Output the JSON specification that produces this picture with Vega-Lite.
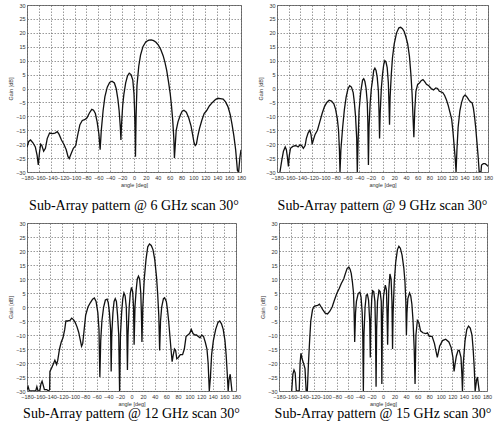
{
  "$schema": "https://vega.github.io/schema/vega-lite/v6.json",
  "description": "Sub-array radiation patterns at 6, 9, 12 and 15 GHz, scan 30 deg.",
  "background": "white",
  "padding": {"left": 8, "top": 2, "right": 0, "bottom": 0},
  "data": {
    "values": [
      {"f": 6, "a": -180, "g": -21}, {"f": 6, "a": -177, "g": -19}, {"f": 6, "a": -174, "g": -18.5}, {"f": 6, "a": -170, "g": -19.5},
      {"f": 6, "a": -166, "g": -21}, {"f": 6, "a": -163, "g": -24}, {"f": 6, "a": -161, "g": -27.5}, {"f": 6, "a": -159, "g": -23},
      {"f": 6, "a": -157, "g": -20}, {"f": 6, "a": -155, "g": -20.5}, {"f": 6, "a": -152, "g": -22.5}, {"f": 6, "a": -149, "g": -21.5},
      {"f": 6, "a": -146, "g": -18}, {"f": 6, "a": -142, "g": -16}, {"f": 6, "a": -137, "g": -16.2}, {"f": 6, "a": -133, "g": -16},
      {"f": 6, "a": -129, "g": -15.5}, {"f": 6, "a": -126, "g": -16.5}, {"f": 6, "a": -122, "g": -18.5}, {"f": 6, "a": -118, "g": -20},
      {"f": 6, "a": -114, "g": -22}, {"f": 6, "a": -111, "g": -24.5}, {"f": 6, "a": -109, "g": -25.2}, {"f": 6, "a": -106, "g": -23.5},
      {"f": 6, "a": -102, "g": -21.5}, {"f": 6, "a": -98, "g": -20.5}, {"f": 6, "a": -95, "g": -17}, {"f": 6, "a": -91, "g": -13},
      {"f": 6, "a": -87, "g": -11.5}, {"f": 6, "a": -83, "g": -11.2}, {"f": 6, "a": -79, "g": -10.5}, {"f": 6, "a": -75, "g": -8.8},
      {"f": 6, "a": -71, "g": -7.5}, {"f": 6, "a": -68, "g": -7.8}, {"f": 6, "a": -65, "g": -9}, {"f": 6, "a": -62, "g": -12},
      {"f": 6, "a": -59, "g": -16.5}, {"f": 6, "a": -57, "g": -22}, {"f": 6, "a": -55, "g": -15}, {"f": 6, "a": -52, "g": -8},
      {"f": 6, "a": -49, "g": -3}, {"f": 6, "a": -45, "g": 0.5}, {"f": 6, "a": -41, "g": 2.2}, {"f": 6, "a": -37, "g": 2.6},
      {"f": 6, "a": -33, "g": 2}, {"f": 6, "a": -30, "g": 0}, {"f": 6, "a": -27, "g": -4}, {"f": 6, "a": -25, "g": -8},
      {"f": 6, "a": -23, "g": -14}, {"f": 6, "a": -22, "g": -18.5}, {"f": 6, "a": -21, "g": -13}, {"f": 6, "a": -19, "g": -6},
      {"f": 6, "a": -17, "g": -2}, {"f": 6, "a": -14, "g": 2}, {"f": 6, "a": -11, "g": 4.5}, {"f": 6, "a": -8, "g": 5.5},
      {"f": 6, "a": -5, "g": 5}, {"f": 6, "a": -2, "g": 3}, {"f": 6, "a": 0, "g": -2}, {"f": 6, "a": 1, "g": -8},
      {"f": 6, "a": 2, "g": -17}, {"f": 6, "a": 2.5, "g": -24.5}, {"f": 6, "a": 3.5, "g": -10}, {"f": 6, "a": 5, "g": 1},
      {"f": 6, "a": 8, "g": 8}, {"f": 6, "a": 11, "g": 12}, {"f": 6, "a": 15, "g": 15}, {"f": 6, "a": 20, "g": 16.8},
      {"f": 6, "a": 25, "g": 17.4}, {"f": 6, "a": 29, "g": 17.5}, {"f": 6, "a": 33, "g": 17.2}, {"f": 6, "a": 37, "g": 16.6},
      {"f": 6, "a": 41, "g": 15.6}, {"f": 6, "a": 45, "g": 14}, {"f": 6, "a": 49, "g": 11.8}, {"f": 6, "a": 52, "g": 9.5},
      {"f": 6, "a": 55, "g": 6.5}, {"f": 6, "a": 58, "g": 2.5}, {"f": 6, "a": 61, "g": -2}, {"f": 6, "a": 63, "g": -6},
      {"f": 6, "a": 65, "g": -11}, {"f": 6, "a": 67, "g": -18}, {"f": 6, "a": 68, "g": -25}, {"f": 6, "a": 69.5, "g": -20},
      {"f": 6, "a": 71, "g": -15}, {"f": 6, "a": 74, "g": -12}, {"f": 6, "a": 78, "g": -9.5}, {"f": 6, "a": 81, "g": -8.2},
      {"f": 6, "a": 84, "g": -7.8}, {"f": 6, "a": 88, "g": -8.5}, {"f": 6, "a": 92, "g": -10.5}, {"f": 6, "a": 96, "g": -13.5},
      {"f": 6, "a": 99, "g": -17}, {"f": 6, "a": 101, "g": -19.5}, {"f": 6, "a": 103, "g": -20.5}, {"f": 6, "a": 105, "g": -20},
      {"f": 6, "a": 107, "g": -17.5}, {"f": 6, "a": 110, "g": -14.5}, {"f": 6, "a": 114, "g": -11.5}, {"f": 6, "a": 118, "g": -9},
      {"f": 6, "a": 122, "g": -8}, {"f": 6, "a": 127, "g": -6.2}, {"f": 6, "a": 132, "g": -5}, {"f": 6, "a": 137, "g": -4},
      {"f": 6, "a": 141, "g": -3.5}, {"f": 6, "a": 145, "g": -3.6}, {"f": 6, "a": 150, "g": -3.8}, {"f": 6, "a": 154, "g": -4.8},
      {"f": 6, "a": 158, "g": -6.5}, {"f": 6, "a": 162, "g": -9.5}, {"f": 6, "a": 165, "g": -13}, {"f": 6, "a": 168, "g": -17},
      {"f": 6, "a": 171, "g": -22}, {"f": 6, "a": 173, "g": -27}, {"f": 6, "a": 174, "g": -29.5}, {"f": 6, "a": 176, "g": -30},
      {"f": 6, "a": 178, "g": -25}, {"f": 6, "a": 180, "g": -22},

      {"f": 9, "a": -175, "g": -30}, {"f": 9, "a": -172, "g": -26}, {"f": 9, "a": -169, "g": -22.5}, {"f": 9, "a": -166, "g": -21},
      {"f": 9, "a": -164, "g": -22}, {"f": 9, "a": -162, "g": -25}, {"f": 9, "a": -160.5, "g": -28}, {"f": 9, "a": -159, "g": -24},
      {"f": 9, "a": -157, "g": -21.5}, {"f": 9, "a": -153, "g": -20.8}, {"f": 9, "a": -148, "g": -20.5}, {"f": 9, "a": -144, "g": -21},
      {"f": 9, "a": -141, "g": -20.3}, {"f": 9, "a": -138, "g": -20.5}, {"f": 9, "a": -135, "g": -21.5}, {"f": 9, "a": -132, "g": -20.5},
      {"f": 9, "a": -130, "g": -18}, {"f": 9, "a": -127, "g": -16}, {"f": 9, "a": -124, "g": -15}, {"f": 9, "a": -122, "g": -16.5},
      {"f": 9, "a": -120, "g": -20}, {"f": 9, "a": -118, "g": -18.5}, {"f": 9, "a": -115, "g": -16.5}, {"f": 9, "a": -111, "g": -15},
      {"f": 9, "a": -107, "g": -12}, {"f": 9, "a": -103, "g": -9}, {"f": 9, "a": -99, "g": -6.5}, {"f": 9, "a": -95, "g": -5},
      {"f": 9, "a": -91, "g": -4.2}, {"f": 9, "a": -87, "g": -4.5}, {"f": 9, "a": -83, "g": -5.5}, {"f": 9, "a": -80, "g": -7.5},
      {"f": 9, "a": -77, "g": -11}, {"f": 9, "a": -75, "g": -15}, {"f": 9, "a": -73.5, "g": -22}, {"f": 9, "a": -72.5, "g": -30},
      {"f": 9, "a": -71, "g": -22}, {"f": 9, "a": -68, "g": -14}, {"f": 9, "a": -65, "g": -7.5}, {"f": 9, "a": -62, "g": -3},
      {"f": 9, "a": -59, "g": -0.2}, {"f": 9, "a": -56, "g": 1}, {"f": 9, "a": -53, "g": 0.5}, {"f": 9, "a": -50, "g": -1.5},
      {"f": 9, "a": -48, "g": -5}, {"f": 9, "a": -46, "g": -10}, {"f": 9, "a": -44, "g": -18}, {"f": 9, "a": -43, "g": -30},
      {"f": 9, "a": -41.5, "g": -18}, {"f": 9, "a": -40, "g": -8}, {"f": 9, "a": -37, "g": -1}, {"f": 9, "a": -34, "g": 3},
      {"f": 9, "a": -32, "g": 3.5}, {"f": 9, "a": -30, "g": 2.5}, {"f": 9, "a": -28, "g": 0}, {"f": 9, "a": -26, "g": -5},
      {"f": 9, "a": -25, "g": -12}, {"f": 9, "a": -24, "g": -27.5}, {"f": 9, "a": -23, "g": -14}, {"f": 9, "a": -21, "g": -5},
      {"f": 9, "a": -19, "g": 0}, {"f": 9, "a": -17, "g": 3}, {"f": 9, "a": -15, "g": 6.5}, {"f": 9, "a": -13, "g": 7.3},
      {"f": 9, "a": -11, "g": 6.5}, {"f": 9, "a": -9, "g": 4}, {"f": 9, "a": -7, "g": -1}, {"f": 9, "a": -6, "g": -8},
      {"f": 9, "a": -5, "g": -18}, {"f": 9, "a": -4, "g": -9}, {"f": 9, "a": -2, "g": 0}, {"f": 9, "a": 0, "g": 5},
      {"f": 9, "a": 2, "g": 8.5}, {"f": 9, "a": 4, "g": 10}, {"f": 9, "a": 6, "g": 9.5}, {"f": 9, "a": 8, "g": 7.5},
      {"f": 9, "a": 10, "g": 2}, {"f": 9, "a": 11, "g": -5}, {"f": 9, "a": 12, "g": -13}, {"f": 9, "a": 13, "g": -3},
      {"f": 9, "a": 15, "g": 5}, {"f": 9, "a": 17, "g": 11}, {"f": 9, "a": 20, "g": 16}, {"f": 9, "a": 24, "g": 20},
      {"f": 9, "a": 28, "g": 21.8}, {"f": 9, "a": 31, "g": 22}, {"f": 9, "a": 34, "g": 21.5}, {"f": 9, "a": 37, "g": 20.5},
      {"f": 9, "a": 40, "g": 18.5}, {"f": 9, "a": 43, "g": 16}, {"f": 9, "a": 46, "g": 11.5}, {"f": 9, "a": 48.5, "g": 5},
      {"f": 9, "a": 50.5, "g": -2}, {"f": 9, "a": 52, "g": -10}, {"f": 9, "a": 53.5, "g": -17.5}, {"f": 9, "a": 55, "g": -8},
      {"f": 9, "a": 57, "g": -1}, {"f": 9, "a": 60, "g": 1.5}, {"f": 9, "a": 63, "g": 2}, {"f": 9, "a": 66, "g": 2.8},
      {"f": 9, "a": 69, "g": 3.2}, {"f": 9, "a": 72, "g": 2.5}, {"f": 9, "a": 75, "g": 1.5}, {"f": 9, "a": 79, "g": 1},
      {"f": 9, "a": 83, "g": 0}, {"f": 9, "a": 87, "g": -0.5}, {"f": 9, "a": 91, "g": 0.2}, {"f": 9, "a": 94, "g": 0},
      {"f": 9, "a": 97, "g": -1}, {"f": 9, "a": 100, "g": -1.2}, {"f": 9, "a": 103, "g": -1.5}, {"f": 9, "a": 106, "g": -2.5},
      {"f": 9, "a": 109, "g": -4}, {"f": 9, "a": 112, "g": -6}, {"f": 9, "a": 115, "g": -8.5}, {"f": 9, "a": 118, "g": -11},
      {"f": 9, "a": 120, "g": -15}, {"f": 9, "a": 122, "g": -20}, {"f": 9, "a": 124, "g": -25}, {"f": 9, "a": 125.5, "g": -30},
      {"f": 9, "a": 127, "g": -22}, {"f": 9, "a": 129, "g": -14}, {"f": 9, "a": 132, "g": -8}, {"f": 9, "a": 135, "g": -5},
      {"f": 9, "a": 138, "g": -3}, {"f": 9, "a": 141, "g": -2.3}, {"f": 9, "a": 144, "g": -3}, {"f": 9, "a": 147, "g": -4},
      {"f": 9, "a": 150, "g": -4.8}, {"f": 9, "a": 153, "g": -5.2}, {"f": 9, "a": 155, "g": -7}, {"f": 9, "a": 157, "g": -10},
      {"f": 9, "a": 159, "g": -14}, {"f": 9, "a": 161, "g": -19}, {"f": 9, "a": 163, "g": -24}, {"f": 9, "a": 165, "g": -30},
      {"f": 9, "a": 168, "g": -30}, {"f": 9, "a": 169, "g": -27.5}, {"f": 9, "a": 172, "g": -27}, {"f": 9, "a": 175, "g": -27},
      {"f": 9, "a": 178, "g": -27.5}, {"f": 9, "a": 180, "g": -28},

      {"f": 12, "a": -180, "g": -29.5}, {"f": 12, "a": -178, "g": -28.5}, {"f": 12, "a": -176, "g": -30}, {"f": 12, "a": -165, "g": -30},
      {"f": 12, "a": -163, "g": -28.5}, {"f": 12, "a": -161, "g": -30}, {"f": 12, "a": -158, "g": -30}, {"f": 12, "a": -156, "g": -27.5},
      {"f": 12, "a": -154, "g": -26.5}, {"f": 12, "a": -152, "g": -28}, {"f": 12, "a": -150, "g": -29.5}, {"f": 12, "a": -146, "g": -29.5},
      {"f": 12, "a": -143, "g": -30}, {"f": 12, "a": -141, "g": -29.5}, {"f": 12, "a": -140.5, "g": -23}, {"f": 12, "a": -138, "g": -22},
      {"f": 12, "a": -135, "g": -20.5}, {"f": 12, "a": -132, "g": -19}, {"f": 12, "a": -129, "g": -20.5}, {"f": 12, "a": -127, "g": -19},
      {"f": 12, "a": -124, "g": -15}, {"f": 12, "a": -121, "g": -12.5}, {"f": 12, "a": -118, "g": -11}, {"f": 12, "a": -115, "g": -8},
      {"f": 12, "a": -113, "g": -5}, {"f": 12, "a": -110, "g": -5}, {"f": 12, "a": -106, "g": -4.8}, {"f": 12, "a": -103, "g": -4},
      {"f": 12, "a": -100, "g": -4.5}, {"f": 12, "a": -97, "g": -5.5}, {"f": 12, "a": -94, "g": -7}, {"f": 12, "a": -91, "g": -9},
      {"f": 12, "a": -88, "g": -12}, {"f": 12, "a": -86, "g": -14}, {"f": 12, "a": -84, "g": -13}, {"f": 12, "a": -82, "g": -9},
      {"f": 12, "a": -79, "g": -3}, {"f": 12, "a": -75, "g": 0}, {"f": 12, "a": -71, "g": 1.5}, {"f": 12, "a": -67, "g": 2.8},
      {"f": 12, "a": -64, "g": 3.2}, {"f": 12, "a": -61, "g": 2}, {"f": 12, "a": -58, "g": -2}, {"f": 12, "a": -56, "g": -8},
      {"f": 12, "a": -54.5, "g": -25}, {"f": 12, "a": -53, "g": -12}, {"f": 12, "a": -51, "g": -5}, {"f": 12, "a": -48, "g": 0},
      {"f": 12, "a": -45, "g": 2.5}, {"f": 12, "a": -42, "g": 2.8}, {"f": 12, "a": -40, "g": 1.5}, {"f": 12, "a": -38, "g": -2},
      {"f": 12, "a": -36, "g": -8}, {"f": 12, "a": -35, "g": -23}, {"f": 12, "a": -34, "g": -10}, {"f": 12, "a": -32, "g": -2},
      {"f": 12, "a": -30, "g": 2}, {"f": 12, "a": -28, "g": 3}, {"f": 12, "a": -26, "g": 2}, {"f": 12, "a": -24, "g": -3},
      {"f": 12, "a": -22, "g": -10}, {"f": 12, "a": -20.5, "g": -30}, {"f": 12, "a": -19, "g": -10}, {"f": 12, "a": -17, "g": -2},
      {"f": 12, "a": -15, "g": 3}, {"f": 12, "a": -13, "g": 5}, {"f": 12, "a": -11, "g": 4}, {"f": 12, "a": -9, "g": 0},
      {"f": 12, "a": -8, "g": -8}, {"f": 12, "a": -7, "g": -22.5}, {"f": 12, "a": -6, "g": -10}, {"f": 12, "a": -4, "g": 0},
      {"f": 12, "a": -2, "g": 5}, {"f": 12, "a": 0, "g": 7}, {"f": 12, "a": 2, "g": 5.5}, {"f": 12, "a": 3.5, "g": 0},
      {"f": 12, "a": 4.5, "g": -13.5}, {"f": 12, "a": 6, "g": 0}, {"f": 12, "a": 8, "g": 6}, {"f": 12, "a": 10, "g": 10},
      {"f": 12, "a": 12, "g": 11}, {"f": 12, "a": 14, "g": 10}, {"f": 12, "a": 16, "g": 5}, {"f": 12, "a": 17, "g": -2},
      {"f": 12, "a": 18, "g": -12.5}, {"f": 12, "a": 19.5, "g": 0}, {"f": 12, "a": 22, "g": 10}, {"f": 12, "a": 25, "g": 17},
      {"f": 12, "a": 28, "g": 21.5}, {"f": 12, "a": 31, "g": 22.5}, {"f": 12, "a": 34, "g": 22}, {"f": 12, "a": 37, "g": 20.5},
      {"f": 12, "a": 40, "g": 17}, {"f": 12, "a": 43, "g": 11}, {"f": 12, "a": 45, "g": 5}, {"f": 12, "a": 47, "g": -3},
      {"f": 12, "a": 48.5, "g": -15.5}, {"f": 12, "a": 50, "g": -5}, {"f": 12, "a": 52, "g": 0}, {"f": 12, "a": 55, "g": 3},
      {"f": 12, "a": 57, "g": 3.3}, {"f": 12, "a": 60, "g": 2}, {"f": 12, "a": 62, "g": -1}, {"f": 12, "a": 64, "g": -5},
      {"f": 12, "a": 66, "g": -10}, {"f": 12, "a": 68, "g": -15}, {"f": 12, "a": 70, "g": -19.5}, {"f": 12, "a": 72, "g": -17},
      {"f": 12, "a": 74, "g": -15}, {"f": 12, "a": 76, "g": -15.5}, {"f": 12, "a": 78, "g": -18.5}, {"f": 12, "a": 81, "g": -18},
      {"f": 12, "a": 84, "g": -17}, {"f": 12, "a": 88, "g": -17}, {"f": 12, "a": 91, "g": -15}, {"f": 12, "a": 94, "g": -10.5},
      {"f": 12, "a": 97, "g": -10}, {"f": 12, "a": 100, "g": -9.5}, {"f": 12, "a": 103, "g": -8}, {"f": 12, "a": 106, "g": -9.5},
      {"f": 12, "a": 109, "g": -10}, {"f": 12, "a": 112, "g": -10}, {"f": 12, "a": 115, "g": -10.5}, {"f": 12, "a": 118, "g": -11},
      {"f": 12, "a": 121, "g": -10}, {"f": 12, "a": 124, "g": -10.5}, {"f": 12, "a": 127, "g": -12.5}, {"f": 12, "a": 130, "g": -15},
      {"f": 12, "a": 132, "g": -20}, {"f": 12, "a": 134, "g": -30}, {"f": 12, "a": 136, "g": -25}, {"f": 12, "a": 138, "g": -17},
      {"f": 12, "a": 141, "g": -12}, {"f": 12, "a": 145, "g": -8}, {"f": 12, "a": 149, "g": -5.5}, {"f": 12, "a": 152, "g": -5},
      {"f": 12, "a": 155, "g": -6}, {"f": 12, "a": 158, "g": -8}, {"f": 12, "a": 161, "g": -12}, {"f": 12, "a": 163, "g": -17},
      {"f": 12, "a": 165, "g": -24}, {"f": 12, "a": 166.5, "g": -30}, {"f": 12, "a": 168, "g": -26}, {"f": 12, "a": 170, "g": -24},
      {"f": 12, "a": 171.5, "g": -27}, {"f": 12, "a": 173, "g": -30},

      {"f": 15, "a": -158, "g": -30}, {"f": 15, "a": -156, "g": -24}, {"f": 15, "a": -154, "g": -22.5}, {"f": 15, "a": -152, "g": -23.5},
      {"f": 15, "a": -150, "g": -30}, {"f": 15, "a": -145, "g": -30}, {"f": 15, "a": -143.5, "g": -20}, {"f": 15, "a": -142, "g": -16.5},
      {"f": 15, "a": -140, "g": -18.5}, {"f": 15, "a": -137, "g": -20.5}, {"f": 15, "a": -135, "g": -22}, {"f": 15, "a": -133, "g": -30},
      {"f": 15, "a": -131, "g": -30}, {"f": 15, "a": -129, "g": -20}, {"f": 15, "a": -127, "g": -12}, {"f": 15, "a": -125, "g": -5},
      {"f": 15, "a": -122, "g": -1}, {"f": 15, "a": -120, "g": 0}, {"f": 15, "a": -117, "g": 0.4}, {"f": 15, "a": -113, "g": 0.6},
      {"f": 15, "a": -110, "g": 1}, {"f": 15, "a": -107, "g": 0}, {"f": 15, "a": -104, "g": -1}, {"f": 15, "a": -100, "g": -2.2},
      {"f": 15, "a": -96, "g": -2.5}, {"f": 15, "a": -92, "g": -1.5}, {"f": 15, "a": -88, "g": 0}, {"f": 15, "a": -84, "g": 2.5},
      {"f": 15, "a": -80, "g": 4.8}, {"f": 15, "a": -76, "g": 6.5}, {"f": 15, "a": -72, "g": 8.5}, {"f": 15, "a": -68, "g": 10},
      {"f": 15, "a": -65, "g": 12}, {"f": 15, "a": -62, "g": 13.8}, {"f": 15, "a": -59, "g": 14.2}, {"f": 15, "a": -57, "g": 13.5},
      {"f": 15, "a": -55, "g": 12}, {"f": 15, "a": -53, "g": 9}, {"f": 15, "a": -51, "g": 5}, {"f": 15, "a": -50, "g": -2},
      {"f": 15, "a": -49, "g": -12.5}, {"f": 15, "a": -47.5, "g": -2}, {"f": 15, "a": -46, "g": 2}, {"f": 15, "a": -43, "g": 4.8},
      {"f": 15, "a": -40, "g": 5.3}, {"f": 15, "a": -38, "g": 3.5}, {"f": 15, "a": -36, "g": -2}, {"f": 15, "a": -35, "g": -10},
      {"f": 15, "a": -34, "g": -30}, {"f": 15, "a": -33, "g": -10}, {"f": 15, "a": -31, "g": 0}, {"f": 15, "a": -29, "g": 4.2},
      {"f": 15, "a": -27, "g": 4.5}, {"f": 15, "a": -25, "g": 2.5}, {"f": 15, "a": -23, "g": -5}, {"f": 15, "a": -22, "g": -18},
      {"f": 15, "a": -21, "g": -5}, {"f": 15, "a": -19.5, "g": 3}, {"f": 15, "a": -18, "g": 5.8}, {"f": 15, "a": -16, "g": 5.5},
      {"f": 15, "a": -14, "g": 2}, {"f": 15, "a": -13, "g": -8}, {"f": 15, "a": -12, "g": -28.5}, {"f": 15, "a": -11, "g": -8},
      {"f": 15, "a": -9.5, "g": 2}, {"f": 15, "a": -7, "g": 6}, {"f": 15, "a": -5, "g": 5.5}, {"f": 15, "a": -3, "g": 2},
      {"f": 15, "a": -2, "g": -27.5}, {"f": 15, "a": -1, "g": -5}, {"f": 15, "a": 1, "g": 4}, {"f": 15, "a": 4, "g": 7.8},
      {"f": 15, "a": 6, "g": 6}, {"f": 15, "a": 7, "g": -2}, {"f": 15, "a": 8, "g": -13.5}, {"f": 15, "a": 9, "g": -2},
      {"f": 15, "a": 10, "g": 6}, {"f": 15, "a": 12, "g": 11.8}, {"f": 15, "a": 14, "g": 10}, {"f": 15, "a": 15.5, "g": 2},
      {"f": 15, "a": 16.5, "g": -15}, {"f": 15, "a": 17.5, "g": -2}, {"f": 15, "a": 19.5, "g": 9}, {"f": 15, "a": 22, "g": 16},
      {"f": 15, "a": 25, "g": 20.5}, {"f": 15, "a": 27.5, "g": 21.7}, {"f": 15, "a": 30, "g": 21}, {"f": 15, "a": 33, "g": 18.5},
      {"f": 15, "a": 36, "g": 14}, {"f": 15, "a": 38, "g": 9}, {"f": 15, "a": 39.5, "g": 2}, {"f": 15, "a": 40.5, "g": -10},
      {"f": 15, "a": 41.5, "g": -2}, {"f": 15, "a": 43, "g": 3}, {"f": 15, "a": 46, "g": 5}, {"f": 15, "a": 48, "g": 4},
      {"f": 15, "a": 50, "g": 1}, {"f": 15, "a": 52, "g": -5}, {"f": 15, "a": 54, "g": -15}, {"f": 15, "a": 55.5, "g": -27.5},
      {"f": 15, "a": 57, "g": -10}, {"f": 15, "a": 59.5, "g": -4.8}, {"f": 15, "a": 62, "g": -5.5}, {"f": 15, "a": 65, "g": -8.5},
      {"f": 15, "a": 69, "g": -9.2}, {"f": 15, "a": 74, "g": -9.5}, {"f": 15, "a": 77, "g": -9.2}, {"f": 15, "a": 80, "g": -10.5},
      {"f": 15, "a": 85, "g": -10.5}, {"f": 15, "a": 89, "g": -13}, {"f": 15, "a": 92, "g": -16}, {"f": 15, "a": 94, "g": -18},
      {"f": 15, "a": 96, "g": -16}, {"f": 15, "a": 98, "g": -14}, {"f": 15, "a": 103, "g": -12}, {"f": 15, "a": 108.5, "g": -11.5},
      {"f": 15, "a": 114, "g": -12.5}, {"f": 15, "a": 118, "g": -14.5}, {"f": 15, "a": 121, "g": -18}, {"f": 15, "a": 123, "g": -23},
      {"f": 15, "a": 125, "g": -20}, {"f": 15, "a": 127, "g": -17.5}, {"f": 15, "a": 130, "g": -15.5}, {"f": 15, "a": 132, "g": -15.5},
      {"f": 15, "a": 135, "g": -18}, {"f": 15, "a": 136.5, "g": -24}, {"f": 15, "a": 137.5, "g": -30}, {"f": 15, "a": 139, "g": -20},
      {"f": 15, "a": 142, "g": -12}, {"f": 15, "a": 145, "g": -8}, {"f": 15, "a": 148, "g": -6.8}, {"f": 15, "a": 151, "g": -7.5},
      {"f": 15, "a": 154, "g": -10}, {"f": 15, "a": 156, "g": -15}, {"f": 15, "a": 158, "g": -22}, {"f": 15, "a": 159.5, "g": -30},
      {"f": 15, "a": 162, "g": -26}, {"f": 15, "a": 163.5, "g": -25}, {"f": 15, "a": 165, "g": -27.5}, {"f": 15, "a": 166.5, "g": -30}
    ]
  },
  "vconcat": [
    {
      "hconcat": [
        {
          "width": 214, "height": 167,
          "title": {"text": "Sub-Array pattern @ 6 GHz scan 30°", "offset": 11},
          "transform": [{"filter": "datum.f == 6"}],
          "mark": {"type": "line", "color": "#111", "strokeWidth": 1.3, "clip": true},
          "encoding": {
            "x": {"field": "a", "type": "quantitative", "title": "angle [deg]", "scale": {"domain": [-180, 180], "nice": false},
              "axis": {"values": [-180, -160, -140, -120, -100, -80, -60, -40, -20, 0, 20, 40, 60, 80, 100, 120, 140, 160, 180]}},
            "y": {"field": "g", "type": "quantitative", "title": "Gain [dB]", "scale": {"domain": [-30, 30], "nice": false},
              "axis": {"values": [-30, -25, -20, -15, -10, -5, 0, 5, 10, 15, 20, 25, 30]}}
          }
        },
        {
          "width": 211, "height": 167,
          "title": {"text": "Sub-Array pattern @ 9 GHz scan 30°", "offset": 11},
          "transform": [{"filter": "datum.f == 9"}],
          "mark": {"type": "line", "color": "#111", "strokeWidth": 1.3, "clip": true},
          "encoding": {
            "x": {"field": "a", "type": "quantitative", "title": "angle [deg]", "scale": {"domain": [-180, 180], "nice": false},
              "axis": {"values": [-180, -160, -140, -120, -100, -80, -60, -40, -20, 0, 20, 40, 60, 80, 100, 120, 140, 160, 180]}},
            "y": {"field": "g", "type": "quantitative", "title": "Gain [dB]", "scale": {"domain": [-30, 30], "nice": false},
              "axis": {"values": [-30, -25, -20, -15, -10, -5, 0, 5, 10, 15, 20, 25, 30]}}
          }
        }
      ],
      "spacing": 11
    },
    {
      "hconcat": [
        {
          "width": 209, "height": 168,
          "title": {"text": "Sub-Array pattern @ 12 GHz scan 30°", "offset": 0},
          "transform": [{"filter": "datum.f == 12"}],
          "mark": {"type": "line", "color": "#111", "strokeWidth": 1.3, "clip": true},
          "encoding": {
            "x": {"field": "a", "type": "quantitative", "title": "angle [deg]", "scale": {"domain": [-180, 180], "nice": false},
              "axis": {"values": [-180, -160, -140, -120, -100, -80, -60, -40, -20, 0, 20, 40, 60, 80, 100, 120, 140, 160, 180]}},
            "y": {"field": "g", "type": "quantitative", "title": "Gain [dB]", "scale": {"domain": [-30, 30], "nice": false},
              "axis": {"values": [-30, -25, -20, -15, -10, -5, 0, 5, 10, 15, 20, 25, 30]}}
          }
        },
        {
          "width": 208, "height": 168,
          "title": {"text": "Sub-Array pattern @ 15 GHz scan 30°", "offset": 0},
          "transform": [{"filter": "datum.f == 15"}],
          "mark": {"type": "line", "color": "#111", "strokeWidth": 1.3, "clip": true},
          "encoding": {
            "x": {"field": "a", "type": "quantitative", "title": "angle [deg]", "scale": {"domain": [-180, 180], "nice": false},
              "axis": {"values": [-180, -160, -140, -120, -100, -80, -60, -40, -20, 0, 20, 40, 60, 80, 100, 120, 140, 160, 180]}},
            "y": {"field": "g", "type": "quantitative", "title": "Gain [dB]", "scale": {"domain": [-30, 30], "nice": false},
              "axis": {"values": [-30, -25, -20, -15, -10, -5, 0, 5, 10, 15, 20, 25, 30]}}
          }
        }
      ],
      "spacing": 18
    }
  ],
  "spacing": 6,
  "config": {
    "view": {"stroke": "#7a7a7a", "strokeWidth": 1},
    "title": {"orient": "bottom", "anchor": "middle", "font": "Liberation Serif", "fontSize": 14, "fontWeight": "normal", "color": "#000"},
    "axis": {
      "domain": false,
      "ticks": false,
      "grid": true,
      "gridColor": "#555",
      "gridDash": [1.5, 1.5],
      "gridWidth": 0.6,
      "labelFont": "Liberation Sans",
      "labelFontSize": 5.5,
      "labelColor": "#333",
      "labelPadding": 2,
      "labelFlush": false,
      "labelOverlap": false,
      "titleFont": "Liberation Sans",
      "titleFontSize": 5.5,
      "titleFontWeight": "normal",
      "titleColor": "#333",
      "titlePadding": 2
    },
    "axisX": {"labelPadding": 3}
  }
}
